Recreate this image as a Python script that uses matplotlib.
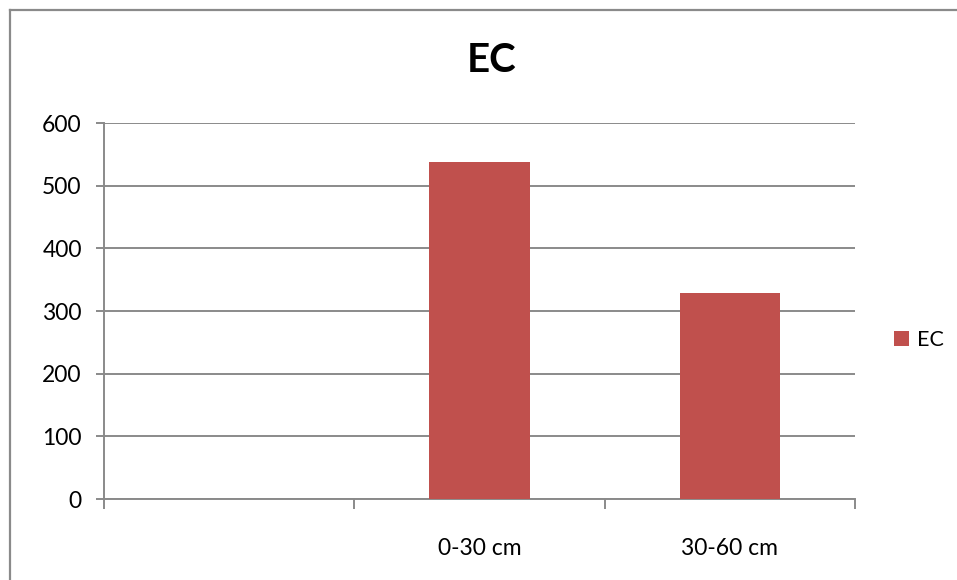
import matplotlib
matplotlib.use("Agg")
import matplotlib.pyplot as plt
from matplotlib.lines import Line2D
from matplotlib.ticker import FixedLocator, NullFormatter
import numpy as np

# Electrical conductivity by soil depth
categories = ["", "0-30 cm", "30-60 cm"]
ec_values = [0, 537, 328]
y_ticks = [0, 100, 200, 300, 400, 500, 600]

plt.rcParams["font.family"] = ["Lato", "DejaVu Sans"]

W, H = 957, 580
fig = plt.figure(figsize=(W / 100, H / 100), dpi=100)
ax = fig.add_axes([104 / W, (H - 499) / H, (855 - 104) / W, (499 - 123) / H])

grid_col = "#8a8a8a"
bar_col = "#C0504D"

x = np.arange(len(categories))
ax.bar(x, ec_values, width=0.4, color=bar_col, linewidth=0, zorder=3, label="EC")

ax.set_xlim(-0.5, len(categories) - 0.5)
ax.set_ylim(0, 600)
ax.set_yticks(y_ticks)
ax.yaxis.grid(True, color=grid_col, linewidth=1.4, zorder=0)

# tick marks sit on category boundaries, labels in the middle
ax.xaxis.set_major_locator(FixedLocator(np.arange(len(categories) + 1) - 0.5))
ax.xaxis.set_major_formatter(NullFormatter())
ax.set_xticks(x, minor=True)
ax.set_xticklabels(categories, minor=True)
ax.tick_params(axis="x", which="major", length=7, width=1.4, color=grid_col)
ax.tick_params(axis="x", which="minor", length=0, pad=28, labelsize=16.5)
ax.tick_params(axis="y", length=6, width=1.4, color=grid_col, pad=10, labelsize=16.5)

for side in ("top", "right"):
    ax.spines[side].set_visible(False)
for side in ("left", "bottom"):
    ax.spines[side].set_color(grid_col)
    ax.spines[side].set_linewidth(1.4)

fig.text(492 / W, 1 - 61 / H, "EC", fontsize=29, fontweight="bold",
         ha="center", va="center")

fig.legend(loc="center left", bbox_to_anchor=(885 / W, 1 - 340 / H),
           frameon=False, fontsize=15.5, handlelength=0.7, handleheight=0.7,
           handletextpad=0.4, borderaxespad=0)

# outer chart border (left and top edges visible)
bx, by = 9.5 / W, 1 - 10 / H
fig.add_artist(Line2D([bx, bx], [-0.05, by], color=grid_col, linewidth=1.6,
                      transform=fig.transFigure))
fig.add_artist(Line2D([bx, 1.05], [by, by], color=grid_col, linewidth=1.6,
                      transform=fig.transFigure))

fig.savefig("out.png", dpi=100, facecolor="white")
